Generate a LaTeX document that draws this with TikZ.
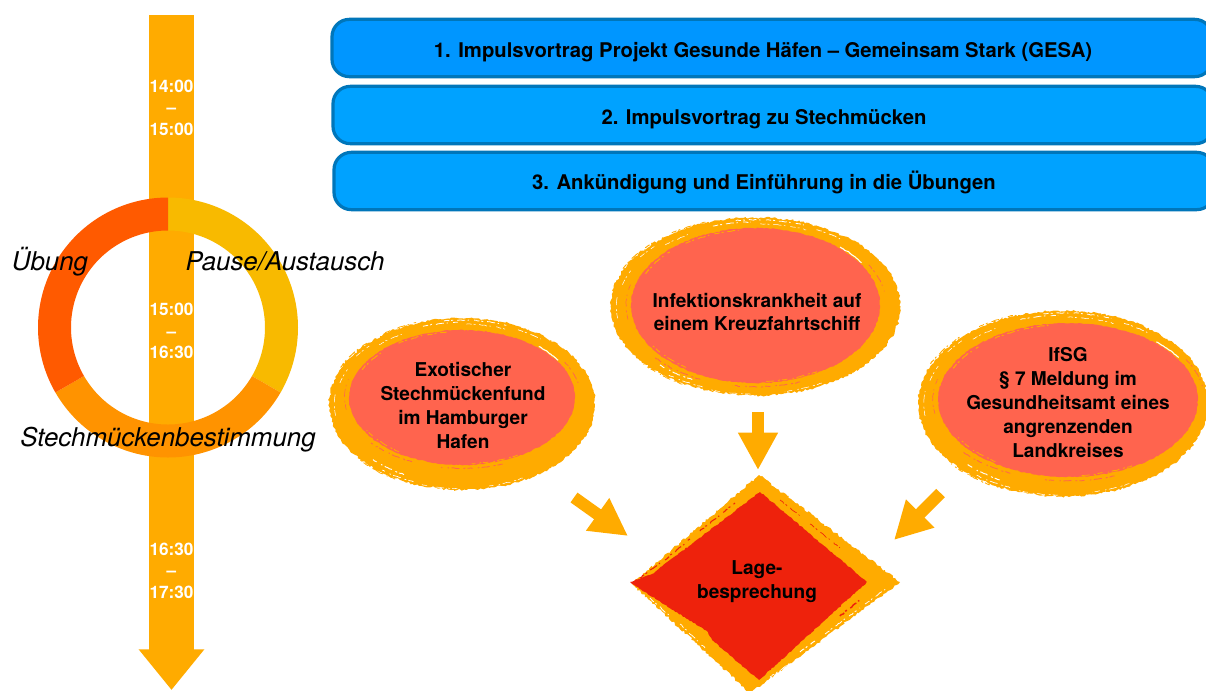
\documentclass[tikz,border=0pt]{standalone}
\usepackage{fontspec}
\setmainfont{TeX Gyre Heros}
\usetikzlibrary{arrows.meta,decorations.pathmorphing}
\definecolor{tlorange}{HTML}{FFAB00}
\definecolor{ringred}{HTML}{FF5A00}
\definecolor{ringyel}{HTML}{F8BA00}
\definecolor{ringora}{HTML}{FF9300}
\definecolor{coral}{HTML}{FF644E}
\definecolor{redd}{HTML}{EE220C}
\definecolor{blueA}{HTML}{0096FF}
\definecolor{blueB}{HTML}{00A2FF}
\definecolor{blueE}{HTML}{0076BA}
\tikzset{
  topbox/.style={draw=blueE,line width=2.4pt,rounded corners=13pt,minimum height=43pt,inner sep=0pt},
  toptext/.style={font=\bfseries\fontsize{15.2}{18}\selectfont,text=black,inner sep=0pt},
  blobtext/.style={font=\bfseries\fontsize{14.3}{18}\selectfont,text=black,align=center,inner sep=0pt},
  timetext/.style={font=\bfseries\fontsize{12.9}{16.1}\selectfont,text=white,align=center,inner sep=0pt},
  ringtext/.style={font=\itshape\fontsize{19.4}{22}\selectfont,text=black,inner sep=0pt},
  rough/.style={decorate,decoration={random steps,segment length=1.6pt,amplitude=0.9pt}},
  rougher/.style={decorate,decoration={random steps,segment length=1.6pt,amplitude=0.45pt}},
  bristle/.style={decorate,decoration={random steps,segment length=1.4pt,amplitude=0.35pt},
    dash pattern=on 4pt off 1.5pt on 1.5pt off 3pt on 6pt off 2pt on 1pt off 4pt},
  flowarrow/.style={draw=tlorange,line width=9pt,-{Triangle[length=#1,width=28pt,fill=tlorange]}},
}
% one brushed ellipse: outer centre and radii, inner centre and radii
\newcommand{\brushblob}[8]{%
  \fill[tlorange,rough] plot[domain=0:356,samples=90] ({#1+#3*cos(\x)},{#2+#4*sin(\x)}) -- cycle;
  % loose orange hairs just outside the outline
  \foreach \a/\b/\w in {205/225/.7pt,120/140/.6pt,235/250/.6pt}{
    \draw[tlorange,line width=\w,bristle] plot[domain=\a:\b,samples=10] ({#1+1.008*#3*cos(\x)},{#2+1.008*#4*sin(\x)});
  }
  \fill[coral,rougher] plot[domain=0:356,samples=90] ({#5+#7*cos(\x)},{#6+#8*sin(\x)}) -- cycle;
  % orange bristles on the coral rim
  \foreach \a/\b/\f/\w in {205/225/.975/.8pt,235/262/.98/.7pt,125/150/.975/.6pt,60/85/.985/.6pt}{
    \draw[tlorange,line width=\w,bristle] plot[domain=\a:\b,samples=10] ({#5+\f*#7*cos(\x)},{#6+\f*#8*sin(\x)});
  }
  % coral bristles in the orange rim
  \foreach \a/\b/\f/\w in {115/140/1.05/.6pt,70/100/1.05/.6pt,330/350/1.05/.5pt,170/195/1.04/.4pt}{
    \draw[coral,line width=\w,bristle] plot[domain=\a:\b,samples=10] ({#5+\f*#7*cos(\x)},{#6+\f*#8*sin(\x)});
  }
  % gap between the rim and the coral, upper right
  \draw[white,line width=.8pt,rougher] plot[domain=312:327,samples=8] ({#5+1.015*#7*cos(\x)},{#6+1.015*#8*sin(\x)});
  % white bristles in the orange rim
  \foreach \a/\b/\f/\w in {252/268/.95/.6pt,262/290/.975/.6pt,272/292/.93/.4pt,228/242/.93/.4pt,
    172/188/.96/.4pt,195/205/.95/.4pt,215/224/.97/.4pt,
    118/136/.93/.7pt,112/128/.975/.5pt,92/108/.985/.4pt,62/78/.975/.4pt,
    296/308/.96/.5pt}{
    \draw[white,line width=\w,bristle] plot[domain=\a:\b,samples=10] ({#1+\f*#3*cos(\x)},{#2+\f*#4*sin(\x)});
  }
}
% one third of the ring
\newcommand{\ringseg}[3]{%
  \fill[#3] plot[domain=#1:#2,samples=61] ({168+130*cos(\x)},{327.5+130*sin(\x)})
    -- plot[domain=#2:#1,samples=61] ({168+97*cos(\x)},{327.5+97*sin(\x)}) -- cycle;
}
\begin{document}
\begin{tikzpicture}[x=0.75pt,y=-0.75pt]
\pgfmathsetseed{11}
\useasboundingbox (0,0) rectangle (1206,690);
\clip (0,0) rectangle (1206,690);
\fill[white] (0,0) rectangle (1206,690);

% time line
\coordinate (tlstart) at (171.5,15);
\coordinate (tlend) at (171.5,690);
\draw[draw=tlorange,line width=33.75pt,-{Triangle[length=30.5pt,width=47.25pt,fill=tlorange]}] (tlstart) -- (tlend);
\ringseg{-90}{30}{ringyel}
\ringseg{30}{150}{ringora}
\ringseg{150}{270}{ringred}
\node[timetext] (t1) at (171.5,107.5) {14:00\\–\\15:00};
\node[timetext] (t2) at (171.5,331) {15:00\\–\\16:30};
\node[timetext] (t3) at (171.5,570.5) {16:30\\–\\17:30};
\node[ringtext] (l1) at (50,262) {Übung};
\node[ringtext] (l2) at (285,261) {Pause/Austausch};
\node[ringtext] (l3) at (168,440) {Stechmückenbestimmung};

% top boxes
\node[topbox,fill=blueA,minimum width=660pt] (b1) at (772,48) {};
\node[topbox,fill=blueB,minimum width=660pt] (b2) at (773,115) {};
\node[topbox,fill=blueB,minimum width=660pt] (b3) at (774,181) {};
\node[toptext] (b1t) at (763,52) {1. Impulsvortrag Projekt Gesunde Häfen – Gemeinsam Stark (GESA)};
\node[toptext] (b2t) at (764,119) {2. Impulsvortrag zu Stechmücken};
\node[toptext] (b3t) at (764,182) {3. Ankündigung und Einführung in die Übungen};

% brushed ellipses
\brushblob{462}{404}{133}{86}{462}{397.5}{113}{67.5}
\brushblob{755.5}{306.5}{145}{89}{755.5}{305.5}{124.5}{77.5}
\brushblob{1063}{403.5}{145}{93}{1068}{400}{130}{77}
\node[blobtext] (e1) at (463,405) {Exotischer\\Stechmückenfund\\im Hamburger\\Hafen};
\node[blobtext,font=\bfseries\fontsize{14.3}{17.25}\selectfont] (e2) at (757,311.5) {Infektionskrankheit auf\\einem Kreuzfahrtschiff};
\node[blobtext] (e3) at (1068,403) {IfSG\\§ 7 Meldung im\\Gesundheitsamt eines\\angrenzenden\\Landkreises};

% brushed diamond
\fill[tlorange,rough] (759,475) -- (900,582) -- (750,693) -- (632,584) -- cycle;
\fill[redd,rougher] (760,492) -- (867,582) -- (759,680) -- (712,640) -- (708,632) -- (645,592) -- (630,582) -- (652,574) -- cycle;
\foreach \xa/\ya/\xb/\yb/\w in {700/531/735/503/.8pt,665/560/690/539/.8pt,640/578/660/563/.8pt,780/500/800/516/.5pt,810/524/840/548/.5pt,840/616/860/600/1.1pt}{
  \draw[redd,line width=\w,bristle] (\xa,\ya) -- (\xb,\yb);
}
\foreach \xa/\ya/\xb/\yb/\w in {650/598/672/618/.6pt,680/624/705/648/.5pt,800/652/815/641/.7pt,825/634/860/608/.6pt,865/604/888/587/.5pt,770/677/795/660/.5pt,785/490/805/505/.4pt}{
  \draw[white,line width=\w,bristle] (\xa,\ya) -- (\xb,\yb);
}
\node[blobtext] (d) at (757,582) {Lage-\\besprechung};

% arrows
\coordinate (a1s) at (574,497.5);
\coordinate (a1e) at (628,536);
\coordinate (a2s) at (758,412);
\coordinate (a2e) at (758,470);
\coordinate (a3s) at (940.5,493);
\coordinate (a3e) at (894,540);
\draw[flowarrow=28pt] (a1s) -- (a1e);
\draw[flowarrow=28pt] (a2s) -- (a2e);
\draw[flowarrow=28pt] (a3s) -- (a3e);
\end{tikzpicture}
\end{document}
